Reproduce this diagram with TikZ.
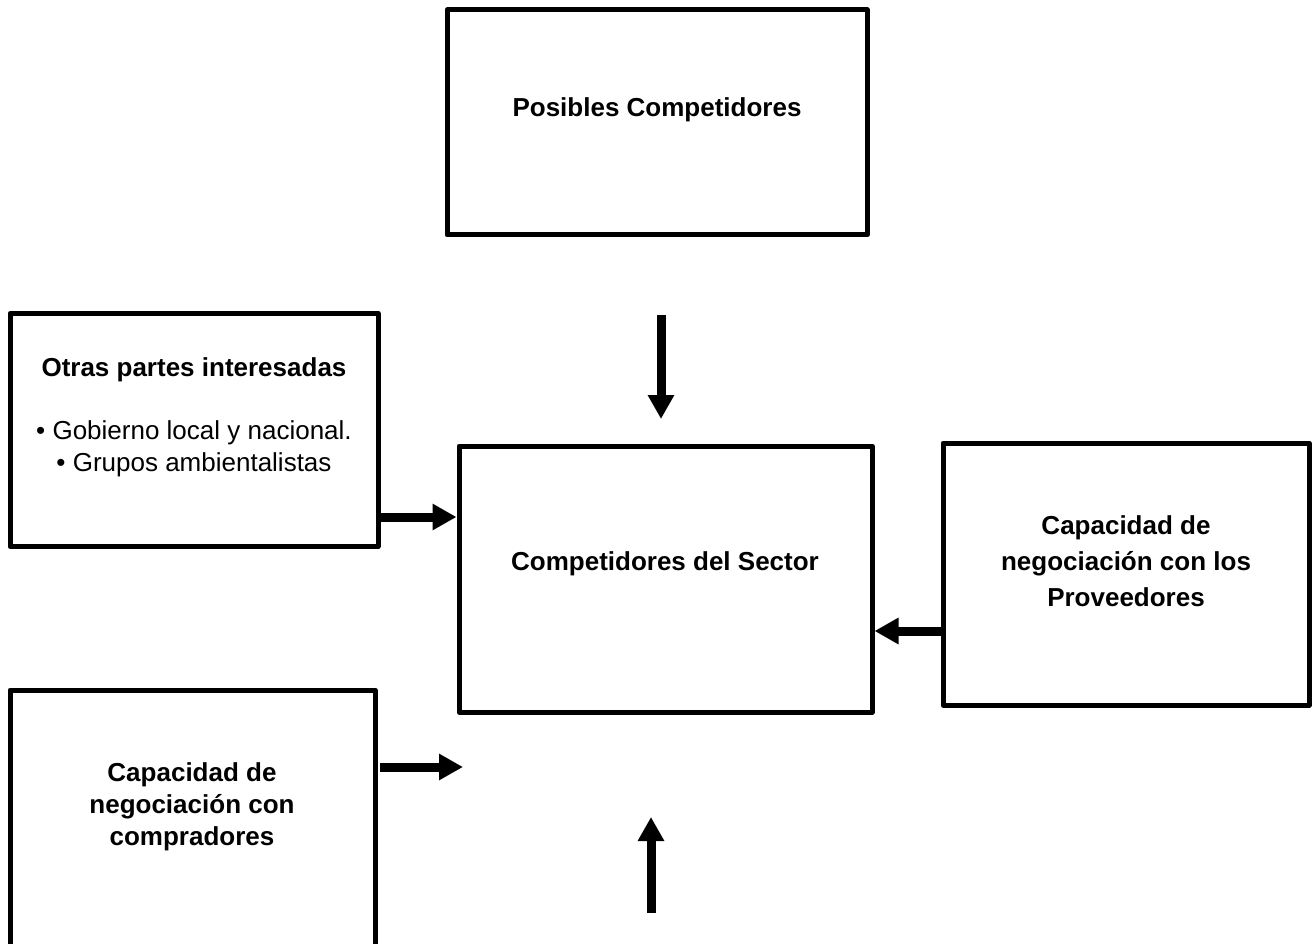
\documentclass[tikz,border=0pt]{standalone}
\usepackage{fontspec}
\setmainfont{Liberation Sans}
\usetikzlibrary{arrows.meta}
\begin{document}
\begin{tikzpicture}[x=1pt,y=-1pt,
  box/.style n args={2}{draw, line width=5pt, line join=round, inner sep=0pt,
    minimum width=#1pt, minimum height=#2pt},
  btxt/.style={align=center, inner sep=0pt, font=\fontsize{26}{#1}\selectfont\bfseries},
  rtxt/.style={align=center, inner sep=0pt, font=\fontsize{26}{#1}\selectfont},
  arr/.style={line width=9pt, -{Triangle[width=25pt,length=24pt]}}]
\clip (0,0) rectangle (1312,944);
\fill[white] (0,0) rectangle (1312,944);
% boxes
\node[box={420}{225}] (P) at (657,122.5) {};
\node[box={368}{233}] (O) at (194,430) {};
\node[box={413}{266}] (S) at (665.5,579) {};
\node[box={366}{262}] (V) at (1126,574) {};
\node[box={365}{290}] (C) at (192.5,835) {};
% texts
\node[btxt=32] (tP) at (657,110) {Posibles Competidores};
\node[btxt=32] (tO) at (194,370) {Otras partes interesadas};
\node[rtxt=32] (tOb) at (194,449) {• Gobierno local y nacional.\\ • Grupos ambientalistas};
\node[btxt=32] (tS) at (665,564) {Competidores del Sector};
\node[btxt=36] (tV) at (1126,561) {Capacidad de\\negociación con los\\Proveedores};
\node[btxt=32] (tC) at (192,807) {Capacidad de\\negociación con\\compradores};
% arrow helper coordinates
\coordinate (a1) at (0,517);
\coordinate (a2) at (0,631);
\coordinate (d1) at (661,315);
\coordinate (d2) at (661,419);
\coordinate (c1) at (380,767);
\coordinate (c2) at (463,767);
\coordinate (u1) at (651,913);
\coordinate (u2) at (651,817);
% arrows
\draw[arr] (d1) -- (d2);
\draw[arr] (O.east |- a1) -- (S.west |- a1);
\draw[arr] (V.west |- a2) -- (S.east |- a2);
\draw[arr] (c1) -- (c2);
\draw[arr] (u1) -- (u2);
\end{tikzpicture}
\end{document}
